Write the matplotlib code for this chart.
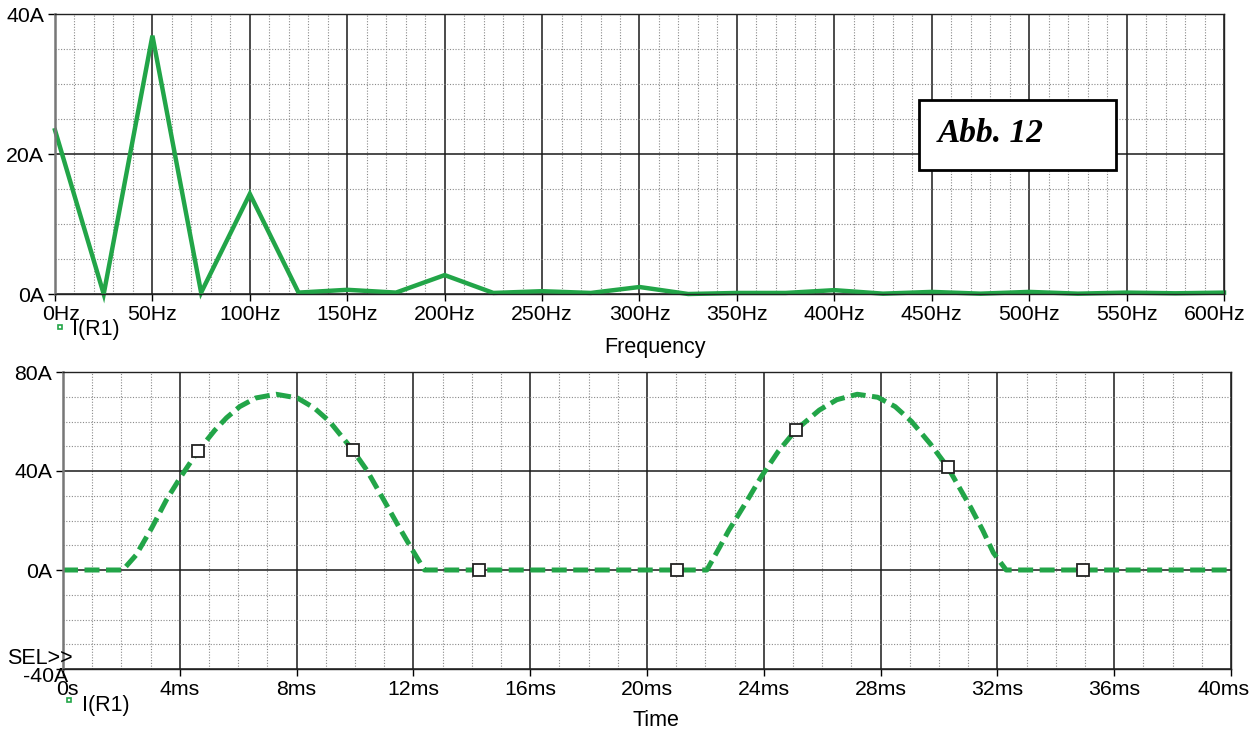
import matplotlib
matplotlib.use("Agg")
import matplotlib.pyplot as plt
import matplotlib.transforms as mtrans
from matplotlib.patches import Rectangle
from matplotlib.lines import Line2D
import numpy as np

plt.rcParams['font.family'] = ['Liberation Sans', 'DejaVu Sans']

# Spektrum (oben)
freq_hz = [0, 25, 50, 75, 100, 125, 150, 175, 200, 225, 250, 275, 300, 325,
           350, 375, 400, 425, 450, 475, 500, 525, 550, 575, 600]
amp_a = [23.4, 0.0, 36.9, 0.2, 14.3, 0.2, 0.6, 0.2, 2.7, 0.15, 0.4, 0.15, 1.0, 0.0,
         0.15, 0.15, 0.55, 0.05, 0.3, 0.05, 0.3, 0.05, 0.2, 0.1, 0.2]
freq_labels = ['0Hz', '50Hz', '100Hz', '150Hz', '200Hz', '250Hz', '300Hz', '350Hz',
               '400Hz', '450Hz', '500Hz', '550Hz', '600Hz']
amp_labels_top = ['0A', '20A', '40A']

# Zeitverlauf (unten)
t_ms = [0.0, 2.05, 2.5, 3.04, 3.55, 4.03, 4.62, 5.2, 5.6, 6.05, 6.6, 7.3, 8.03, 8.6,
        9.13, 9.92, 10.4, 11.0, 11.5, 11.97, 12.38, 14.26, 21.03, 22.05, 22.5, 22.8,
        23.4, 23.93, 24.5, 25.1, 25.9, 26.5, 27.2, 27.9, 28.5, 29.06, 29.7, 30.3, 31.1,
        31.5, 31.86, 32.3, 34.94, 40.0]
i_a = [0.0, 0.0, 6.0, 17.0, 28.5, 37.6, 48.0, 56.5, 61.5, 66.0, 69.5, 71.0, 69.5, 65.5,
       60.0, 48.5, 40.4, 28.0, 17.5, 8.0, 0.0, 0.0, 0.0, 0.0, 9.5, 16.0,
       27.5, 38.0, 48.0, 56.6, 64.6, 68.8, 71.0, 69.8, 66.0, 60.0, 51.0, 41.5, 25.0,
       16.0, 7.0, 0.0, 0.0, 0.0]
marker_idx = [6, 15, 21, 22, 29, 37, 42]
time_labels = ['0s', '4ms', '8ms', '12ms', '16ms', '20ms', '24ms', '28ms', '32ms',
               '36ms', '40ms']
amp_labels_bot = ['-40A', '0A', '40A', '80A']

green = '#22a548'
W, H = 1259, 731
fs = 15.3

fig = plt.figure(figsize=(W / 100, H / 100), dpi=100)


def px(x0, y0, x1, y1):
    # Pixelrechteck -> Figure-Koordinaten
    return [x0 / W, 1 - y1 / H, (x1 - x0) / W, (y1 - y0) / H]


def style(ax, xmaj, xmin, ymaj, ymin):
    ax.set_xticks(xmaj)
    ax.set_xticks(xmin, minor=True)
    ax.set_yticks(ymaj)
    ax.set_yticks(ymin, minor=True)
    ax.grid(which='minor', color='#8a8a8a', lw=0.8, ls=(0, (1, 1.5)))
    ax.grid(which='major', color='#1a1a1a', lw=1.1, ls='-')
    ax.tick_params(which='major', length=5, width=1, color='black', labelsize=fs, pad=3)
    ax.tick_params(which='minor', length=0)
    for s in ['top', 'right', 'bottom']:
        ax.spines[s].set_color('#222222')
        ax.spines[s].set_linewidth(1.0)
    ax.spines['left'].set_color('#777777')
    ax.spines['left'].set_linewidth(1.8)
    ax.set_axisbelow(True)


def shift(label, dx, dy):
    label.set_transform(label.get_transform() +
                        mtrans.ScaledTranslation(dx / 100, -dy / 100, fig.dpi_scale_trans))


# --- oben
ax1 = fig.add_axes(px(55, 14, 1224, 294))
ax1.plot(freq_hz, amp_a, color=green, lw=3.2, clip_on=False, solid_joinstyle='miter')
ax1.set_xlim(0, 600)
ax1.set_ylim(0, 40)
style(ax1, np.arange(0, 601, 50), np.arange(0, 601, 10), [0, 20, 40], np.arange(0, 41, 5))
ax1.set_xticklabels(freq_labels)
ax1.set_yticklabels(amp_labels_top)
xl = ax1.get_xticklabels()
shift(xl[0], 6, 0)
shift(xl[-1], -9, 0)

# Abb. 12 Kasten
fig.patches.append(Rectangle((919 / W, 1 - 170 / H), 197 / W, 70 / H,
                             transform=fig.transFigure, facecolor='white',
                             edgecolor='black', lw=2, zorder=5))
fig.text(938 / W, 1 - 142 / H, 'Abb. 12', family='Liberation Serif',
         fontsize=24, fontweight='bold', fontstyle='italic', va='baseline', zorder=6)

fig.add_artist(Line2D([60 / W], [1 - 327 / H], marker='s', ms=3.5, mfc='white',
                      mec=green, mew=1.2, transform=fig.transFigure))
fig.text(72 / W, 1 - 330 / H, 'I(R1)', fontsize=15.5, va='center')
fig.text(655 / W, 1 - 347 / H, 'Frequency', fontsize=15.5, va='center', ha='center')

# --- unten
ax2 = fig.add_axes(px(63, 372, 1231, 669))
ax2.plot(t_ms, i_a, color=green, lw=3.6, ls=(0, (3, 1.3)), clip_on=False)
ax2.plot(np.array(t_ms)[marker_idx], np.array(i_a)[marker_idx], ls='none', marker='s',
         ms=8, mfc='white', mec='#222222', mew=1.3, zorder=4)
ax2.set_xlim(0, 40)
ax2.set_ylim(-40, 80)
style(ax2, np.arange(0, 41, 4), np.arange(0, 41, 1), [-40, 0, 40, 80], np.arange(-40, 81, 10))
ax2.set_xticklabels(time_labels)
ax2.set_yticklabels(amp_labels_bot)
xl = ax2.get_xticklabels()
shift(xl[0], 4, 0)
shift(xl[-1], -7, 0)
shift(ax2.get_yticklabels()[0], 16, 6)

fig.text(7 / W, 1 - 658 / H, 'SEL>>', fontsize=15.5, va='center')
fig.add_artist(Line2D([69 / W], [1 - 700 / H], marker='s', ms=3.5, mfc='white',
                      mec=green, mew=1.2, transform=fig.transFigure))
fig.text(82 / W, 1 - 706 / H, 'I(R1)', fontsize=15.5, va='center')
fig.text(656 / W, 1 - 720 / H, 'Time', fontsize=15.5, va='center', ha='center')

fig.savefig('out.png', dpi=100)
